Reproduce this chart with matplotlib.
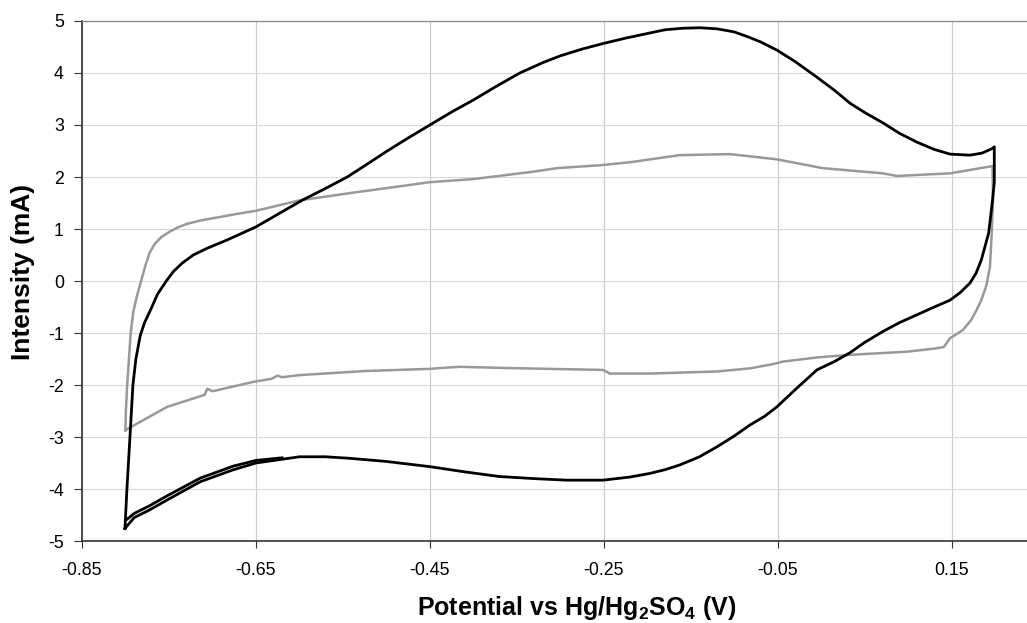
import matplotlib
matplotlib.use("Agg")
import matplotlib.pyplot as plt

plt.rcParams["font.family"] = ["Liberation Sans", "DejaVu Sans"]
plt.rcParams["axes.unicode_minus"] = False
plt.rcParams["mathtext.fontset"] = "custom"
plt.rcParams["mathtext.rm"] = "Liberation Sans:bold"
plt.rcParams["mathtext.it"] = "Liberation Sans:bold"
plt.rcParams["mathtext.bf"] = "Liberation Sans:bold"

# first electrode: full cycle (potential in V, current in mA)
black_v = [-0.8006, -0.7995, -0.7983, -0.7948, -0.7914, -0.7880, -0.7830, -0.7780,
           -0.7710, -0.7630, -0.7530, -0.7450, -0.7350, -0.7220, -0.7060, -0.6830,
           -0.650, -0.620,
           -0.596, -0.570, -0.545, -0.520, -0.500, -0.475, -0.450, -0.425, -0.400,
           -0.375, -0.3466, -0.320, -0.300, -0.275, -0.250, -0.225, -0.197, -0.180,
           -0.160, -0.140, -0.120, -0.100, -0.085, -0.070, -0.051, -0.030, -0.005,
           0.015, 0.033, 0.050, 0.071, 0.090, 0.110, 0.130, 0.148, 0.171, 0.185,
           0.197, 0.199,
           0.199, 0.197, 0.1925, 0.184, 0.178, 0.171, 0.160, 0.148, 0.130, 0.110,
           0.090, 0.071, 0.050, 0.033, 0.015, -0.005, -0.028, -0.051, -0.065,
           -0.082, -0.100, -0.120, -0.140, -0.163, -0.180, -0.197, -0.220, -0.251,
           -0.2925, -0.330, -0.370, -0.410, -0.450, -0.500, -0.542, -0.570, -0.600,
           -0.650, -0.676, -0.714, -0.752, -0.772, -0.790, -0.8006]
black_i = [-4.76, -4.40, -4.00, -3.00, -2.00, -1.50, -1.05, -0.80,
           -0.55, -0.25, 0.00, 0.18, 0.34, 0.50, 0.63, 0.79,
           1.04, 1.33,
           1.56, 1.78, 2.00, 2.27, 2.49, 2.75, 3.00, 3.25, 3.48,
           3.73, 4.00, 4.20, 4.33, 4.46, 4.57, 4.67, 4.77, 4.83,
           4.86, 4.87, 4.85, 4.79, 4.70, 4.60, 4.44, 4.22, 3.92,
           3.67, 3.42, 3.24, 3.04, 2.84, 2.67, 2.53, 2.44, 2.42, 2.46,
           2.55, 2.58,
           1.90, 1.56, 0.92, 0.40, 0.15, -0.04, -0.22, -0.37, -0.50, -0.65,
           -0.80, -0.97, -1.18, -1.38, -1.55, -1.71, -2.06, -2.42, -2.60,
           -2.77, -2.98, -3.19, -3.38, -3.54, -3.63, -3.70, -3.77, -3.83,
           -3.83, -3.80, -3.76, -3.67, -3.57, -3.47, -3.41, -3.38, -3.38,
           -3.50, -3.63, -3.86, -4.21, -4.40, -4.55, -4.76]

# first electrode: second cycle where it separates from the first
black2_v = [-0.7995, -0.790, -0.772, -0.752, -0.714, -0.676, -0.650, -0.620]
black2_i = [-4.60, -4.47, -4.32, -4.13, -3.79, -3.56, -3.45, -3.40]

# second electrode
gray_v = [-0.800, -0.7995, -0.798, -0.796, -0.794, -0.791, -0.787, -0.782, -0.777,
          -0.772, -0.766, -0.759, -0.750, -0.740, -0.729, -0.712, -0.695, -0.672,
          -0.650, -0.600, -0.542, -0.450, -0.400, -0.332, -0.304, -0.251, -0.217,
          -0.163, -0.105, -0.051, 0.002, 0.071, 0.087, 0.148, 0.197,
          0.1975, 0.196, 0.194, 0.190, 0.184, 0.178, 0.172, 0.163, 0.153, 0.148,
          0.141, 0.130, 0.098, 0.033, -0.005, -0.044, -0.056, -0.082, -0.120,
          -0.197, -0.243, -0.251, -0.312, -0.370, -0.415, -0.435, -0.450, -0.523,
          -0.600, -0.620, -0.625, -0.632, -0.653, -0.700, -0.706, -0.709, -0.752,
          -0.795, -0.800]
gray_i = [-2.87, -2.50, -2.00, -1.50, -1.00, -0.60, -0.30, 0.00, 0.30,
          0.55, 0.72, 0.84, 0.94, 1.03, 1.10, 1.17, 1.22, 1.29,
          1.35, 1.55, 1.69, 1.90, 1.96, 2.10, 2.17, 2.23, 2.29,
          2.42, 2.44, 2.34, 2.17, 2.07, 2.02, 2.07, 2.21,
          1.56, 0.90, 0.27, -0.08, -0.37, -0.58, -0.76, -0.94, -1.05, -1.10,
          -1.27, -1.30, -1.36, -1.42, -1.47, -1.55, -1.60, -1.68, -1.74,
          -1.78, -1.78, -1.71, -1.69, -1.67, -1.65, -1.67, -1.69, -1.73,
          -1.81, -1.85, -1.82, -1.88, -1.94, -2.12, -2.07, -2.19, -2.42,
          -2.82, -2.87]

x_ticks = [-0.85, -0.65, -0.45, -0.25, -0.05, 0.15]
x_labels = ["-0.85", "-0.65", "-0.45", "-0.25", "-0.05", "0.15"]
y_ticks = [-5, -4, -3, -2, -1, 0, 1, 2, 3, 4, 5]

fig = plt.figure(figsize=(10.27, 6.23), dpi=100)
ax = fig.add_axes([0.0798, 0.1316, 0.9202, 0.8347])

ax.plot(gray_v, gray_i, color="#999999", lw=1.8, solid_joinstyle="round", zorder=3)
ax.plot(black_v, black_i, color="black", lw=2.0, solid_joinstyle="round", zorder=4)
ax.plot(black2_v, black2_i, color="black", lw=2.0, solid_joinstyle="round", zorder=4)

ax.set_xlim(-0.85, 0.2366)
ax.set_ylim(-5, 5)
ax.set_xticks(x_ticks)
ax.set_xticklabels(x_labels)
ax.set_yticks(y_ticks)
ax.tick_params(axis="both", labelsize=12.8, direction="out", color="#333333")
ax.tick_params(axis="x", length=5, pad=10)
ax.tick_params(axis="y", length=6, pad=7)

ax.grid(True, axis="x", color="#c8c8c8", lw=0.8)
ax.grid(True, axis="y", color="#d9d9d9", lw=0.8)
ax.set_axisbelow(True)

for side in ("left", "bottom"):
    ax.spines[side].set_color("#333333")
    ax.spines[side].set_linewidth(1.2)
ax.spines["top"].set_color("#888888")
ax.spines["top"].set_linewidth(0.9)
ax.spines["right"].set_visible(False)

ax.set_xlabel(r"Potential vs Hg/Hg$_2$SO$_4$ (V)", fontsize=18, fontweight="bold",
              va="center")
ax.xaxis.set_label_coords(0.524, -0.129)
ax.set_ylabel("Intensity (mA)", fontsize=19, fontweight="bold", va="center")
ax.yaxis.set_label_coords(-0.0624, 0.517)

fig.savefig("out.png", dpi=100)
